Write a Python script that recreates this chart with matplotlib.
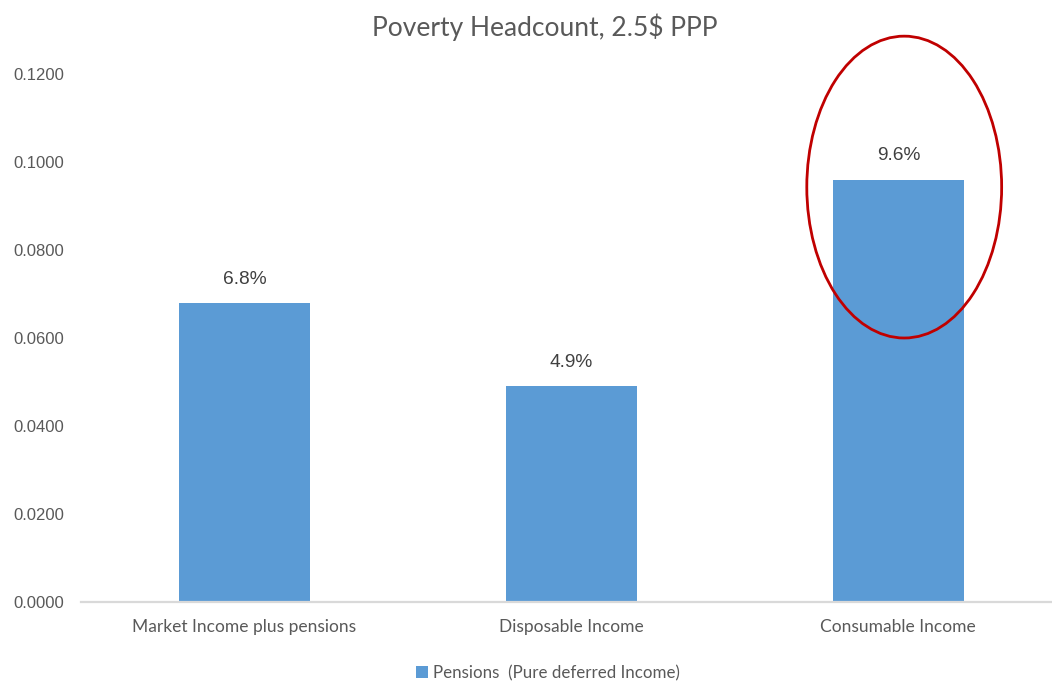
import matplotlib.pyplot as plt
from matplotlib.patches import Ellipse, Patch

categories = ['Market Income plus pensions', 'Disposable Income', 'Consumable Income']
headcount = [0.068, 0.049, 0.096]
bar_labels = ['6.8%', '4.9%', '9.6%']
yticks = [0.0, 0.02, 0.04, 0.06, 0.08, 0.10, 0.12]
series_name = 'Pensions  (Pure deferred Income)'

BLUE = '#5B9BD5'
GREY_TEXT = '#595959'
LABEL_FONT = ['Lato', 'DejaVu Sans']


def plot():
    fig = plt.figure(figsize=(10.52, 6.84), dpi=100)
    ax = fig.add_axes([81 / 1052, 82 / 684, 971 / 1052, 528 / 684])

    x = range(len(categories))
    ax.bar(x, headcount, width=0.4, color=BLUE, zorder=2)

    for xi, v, lab in zip(x, headcount, bar_labels):
        ax.annotate(lab, (xi, v), xytext=(0, 17), textcoords='offset points',
                    ha='center', va='center', fontsize=13.8, color='#404040',
                    family='Liberation Sans')

    ax.set_xlim(-0.5, 2.47)
    ax.set_ylim(0, 0.12)
    ax.set_yticks(yticks)
    ax.set_yticklabels([f'{t:.4f}' for t in yticks], family='Liberation Sans',
                       fontsize=12, color=GREY_TEXT)
    ax.set_xticks(list(x))
    ax.set_xticklabels(categories, family=LABEL_FONT, fontsize=12.5, color=GREY_TEXT)
    ax.tick_params(axis='both', length=0)
    ax.tick_params(axis='x', pad=12)
    ax.tick_params(axis='y', pad=12)

    for side in ['top', 'right', 'left']:
        ax.spines[side].set_visible(False)
    ax.spines['bottom'].set_color('#D9D9D9')
    ax.spines['bottom'].set_linewidth(1.6)

    # highlight on the consumable income bar
    ring = Ellipse((2.018, 0.0943), width=0.596, height=0.0686, fill=False,
                   edgecolor='#C00000', linewidth=2.0, clip_on=False, zorder=3)
    ax.add_patch(ring)

    fig.text(545 / 1052, 1 - 27 / 684, 'Poverty Headcount, 2.5$ PPP', ha='center', va='center',
             fontsize=19, color=GREY_TEXT, family=LABEL_FONT)

    handle = Patch(facecolor=BLUE, edgecolor='none')
    fig.legend([handle], [series_name], loc='center', bbox_to_anchor=(0.521, 1 - 673 / 684),
               frameon=False, handlelength=0.7, handleheight=0.7, handletextpad=0.3,
               prop={'family': LABEL_FONT, 'size': 12.2}, labelcolor=GREY_TEXT)

    fig.savefig('out.png', dpi=100)


if __name__ == '__main__':
    plot()
